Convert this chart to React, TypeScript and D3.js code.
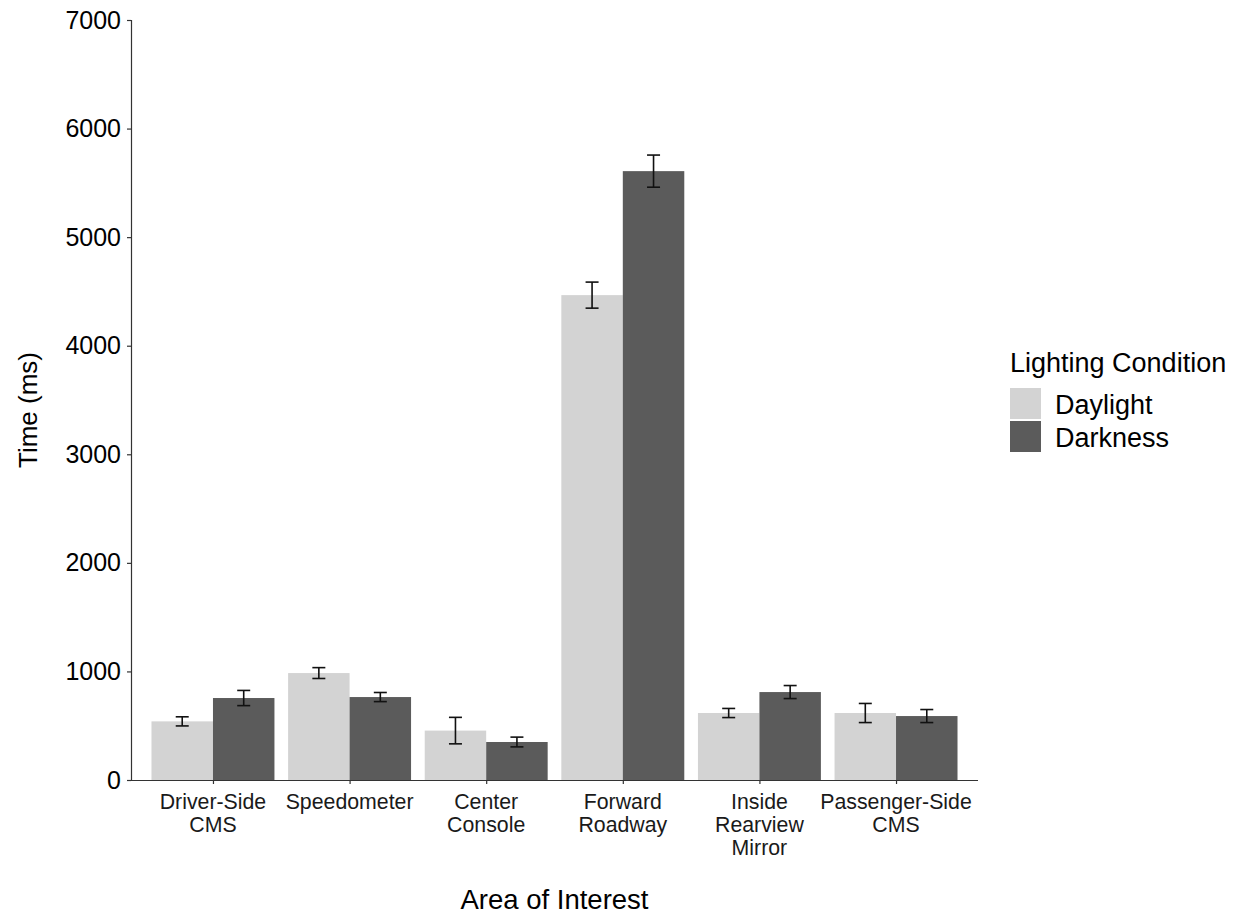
import React from 'react';
import * as d3 from 'd3';

const categories = [
  'Driver-Side\nCMS',
  'Speedometer',
  'Center\nConsole',
  'Forward\nRoadway',
  'Inside\nRearview\nMirror',
  'Passenger-Side\nCMS'
];
const seriesNames = ['Daylight', 'Darkness'];
const seriesColors = ['#d3d3d3', '#5b5b5b'];
const daylightMean = [540, 985, 455, 4466, 617, 617];
const daylightSe = [42, 50, 122, 120, 42, 88];
const darknessMean = [755, 764, 350, 5608, 810, 589];
const darknessSe = [70, 42, 45, 148, 60, 60];
const yTicks = [0, 1000, 2000, 3000, 4000, 5000, 6000, 7000];

const FONT = '"Liberation Sans", Arial, sans-serif';

const App: React.FC = () => {
  const svgRef = React.useRef<SVGSVGElement>(null);
  const width = 1238;
  const height = 915;

  React.useEffect(() => {
    if (!svgRef.current) return;
    const svg = d3.select(svgRef.current);
    svg.selectAll('*').remove();

    const left = 131, right = 978, top = 20, bottom = 780;

    const x = d3.scalePoint<string>()
      .domain(categories)
      .range([left, right])
      .padding(0.6);
    const step = x.step();
    const inner = d3.scaleBand<string>()
      .domain(seriesNames)
      .range([-0.45 * step, 0.45 * step])
      .padding(0);
    const y = d3.scaleLinear().domain([0, 7000]).range([bottom, top]);

    const rows = categories.flatMap((c, i) => [
      { cat: c, s: seriesNames[0], mean: daylightMean[i], se: daylightSe[i], color: seriesColors[0] },
      { cat: c, s: seriesNames[1], mean: darknessMean[i], se: darknessSe[i], color: seriesColors[1] }
    ]);

    // bars
    svg.append('g').selectAll('rect')
      .data(rows)
      .enter().append('rect')
      .attr('x', d => (x(d.cat) || 0) + (inner(d.s) || 0))
      .attr('y', d => y(d.mean))
      .attr('width', inner.bandwidth())
      .attr('height', d => bottom - y(d.mean))
      .attr('fill', d => d.color);

    // error bars
    const eb = svg.append('g')
      .attr('stroke', '#111')
      .attr('stroke-width', 1.6)
      .attr('fill', 'none');
    rows.forEach(d => {
      const cx = (x(d.cat) || 0) + (inner(d.s) || 0) + inner.bandwidth() / 2;
      const hw = 6.5;
      const y1 = y(d.mean + d.se), y0 = y(d.mean - d.se);
      eb.append('line').attr('x1', cx).attr('x2', cx).attr('y1', y1).attr('y2', y0);
      eb.append('line').attr('x1', cx - hw).attr('x2', cx + hw).attr('y1', y1).attr('y2', y1);
      eb.append('line').attr('x1', cx - hw).attr('x2', cx + hw).attr('y1', y0).attr('y2', y0);
    });

    // y axis
    const yAxis = svg.append('g')
      .attr('transform', `translate(${left},0)`)
      .call(d3.axisLeft(y).tickValues(yTicks).tickSize(4).tickPadding(6).tickFormat(d3.format('d')));
    yAxis.select('.domain').attr('stroke', '#333').attr('stroke-width', 1.2);
    yAxis.selectAll('.tick line').attr('stroke', '#333').attr('stroke-width', 1.2);
    yAxis.selectAll('.tick text')
      .attr('font-family', FONT)
      .attr('font-size', 25)
      .attr('fill', '#000');

    // x axis
    const xAxis = svg.append('g')
      .attr('transform', `translate(0,${bottom})`)
      .call(d3.axisBottom(x).tickSize(4).tickSizeOuter(0).tickFormat(() => ''));
    xAxis.select('.domain')
      .attr('d', `M${left},0.5H${right}`)
      .attr('stroke', '#333').attr('stroke-width', 1.2);
    xAxis.selectAll('.tick line').attr('stroke', '#333').attr('stroke-width', 1.2);

    categories.forEach(c => {
      const t = svg.append('text')
        .attr('x', x(c) || 0)
        .attr('y', bottom + 29)
        .attr('text-anchor', 'middle')
        .attr('font-family', FONT)
        .attr('font-size', 21.3)
        .attr('fill', '#1a1a1a');
      c.split('\n').forEach((line, i) => {
        t.append('tspan')
          .attr('x', x(c) || 0)
          .attr('dy', i === 0 ? 0 : 23)
          .text(line);
      });
    });

    // axis titles
    svg.append('text')
      .attr('x', (left + right) / 2)
      .attr('y', 909)
      .attr('text-anchor', 'middle')
      .attr('font-family', FONT)
      .attr('font-size', 27.5)
      .attr('fill', '#000')
      .text('Area of Interest');

    svg.append('text')
      .attr('transform', `translate(37,410) rotate(-90)`)
      .attr('text-anchor', 'middle')
      .attr('font-family', FONT)
      .attr('font-size', 26)
      .attr('fill', '#000')
      .text('Time (ms)');

    // legend
    const lg = svg.append('g');
    lg.append('text')
      .attr('x', 1010)
      .attr('y', 372)
      .attr('font-family', FONT)
      .attr('font-size', 27)
      .attr('fill', '#000')
      .text('Lighting Condition');
    seriesNames.forEach((s, i) => {
      const ky = 388 + i * 33;
      lg.append('rect')
        .attr('x', 1010)
        .attr('y', ky)
        .attr('width', 31)
        .attr('height', 31)
        .attr('fill', seriesColors[i]);
      lg.append('text')
        .attr('x', 1055)
        .attr('y', ky + 26)
        .attr('font-family', FONT)
        .attr('font-size', 27)
        .attr('fill', '#000')
        .text(s);
    });
  }, []);

  return (
    <svg
      ref={svgRef}
      width={width}
      height={height}
      style={{ position: 'fixed', left: 0, top: 0, background: '#fff', display: 'block' }}
    />
  );
};

export default App;
